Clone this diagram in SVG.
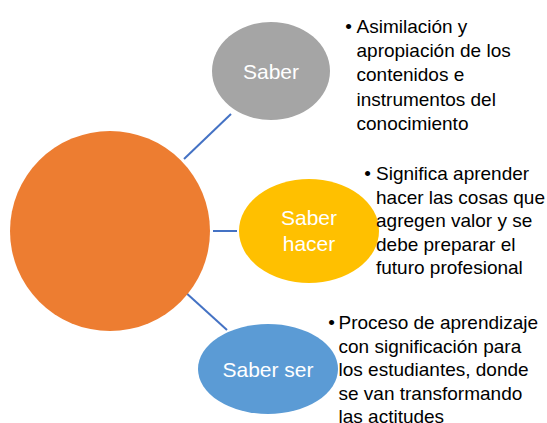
<svg xmlns="http://www.w3.org/2000/svg" width="547" height="423" viewBox="0 0 547 423">
<style>
.conn{stroke:#4472C4;stroke-width:2;fill:none}
.lbl{font-family:"Liberation Sans",Arial,sans-serif;font-size:21px;fill:#FFFFFF;text-anchor:middle}
.bul{font-family:"Liberation Sans",Arial,sans-serif;font-size:19px;fill:#000000}
</style>
<rect width="547" height="423" fill="#FFFFFF"/>
<g id="connectors">
<line class="conn" x1="184" y1="159" x2="231" y2="114"/>
<line class="conn" x1="213" y1="231" x2="237" y2="231"/>
<line class="conn" x1="184" y1="291" x2="227" y2="330"/>
</g>
<g id="center">
<circle cx="110" cy="231" r="100" fill="#ED7D31"/>
</g>
<g id="node-saber">
<ellipse cx="271" cy="71" rx="59" ry="49" fill="#A5A5A5"/>
<text class="lbl" x="271" y="79">Saber</text>
</g>
<g id="node-saber-hacer">
<ellipse cx="309" cy="231" rx="70" ry="52" fill="#FFC000"/>
<text class="lbl" x="309" y="225">Saber</text>
<text class="lbl" x="309" y="251">hacer</text>
</g>
<g id="node-saber-ser">
<ellipse cx="268" cy="369" rx="70" ry="45" fill="#5B9BD5"/>
<text class="lbl" x="268" y="377">Saber ser</text>
</g>
<g id="text-saber" class="bul">
<text x="348.5" y="32.5" text-anchor="middle">•</text>
<text x="356.5" y="32.5">Asimilación y</text>
<text x="356.5" y="56.9">apropiación de los</text>
<text x="356.5" y="81.3">contenidos e</text>
<text x="356.5" y="105.7">instrumentos del</text>
<text x="356.5" y="130.1">conocimiento</text>
</g>
<g id="text-saber-hacer" class="bul">
<text x="367.5" y="180" text-anchor="middle">•</text>
<text x="376" y="180">Significa aprender</text>
<text x="376" y="203.5">hacer las cosas que</text>
<text x="376" y="227">agregen valor y se</text>
<text x="376" y="250.5">debe preparar el</text>
<text x="376" y="274">futuro profesional</text>
</g>
<g id="text-saber-ser" class="bul">
<text x="331.5" y="329" text-anchor="middle">•</text>
<text x="338.5" y="329">Proceso de aprendizaje</text>
<text x="338.5" y="352.6">con significación para</text>
<text x="338.5" y="376.2">los estudiantes, donde</text>
<text x="338.5" y="399.8">se van transformando</text>
<text x="338.5" y="423.4">las actitudes</text>
</g>
</svg>
